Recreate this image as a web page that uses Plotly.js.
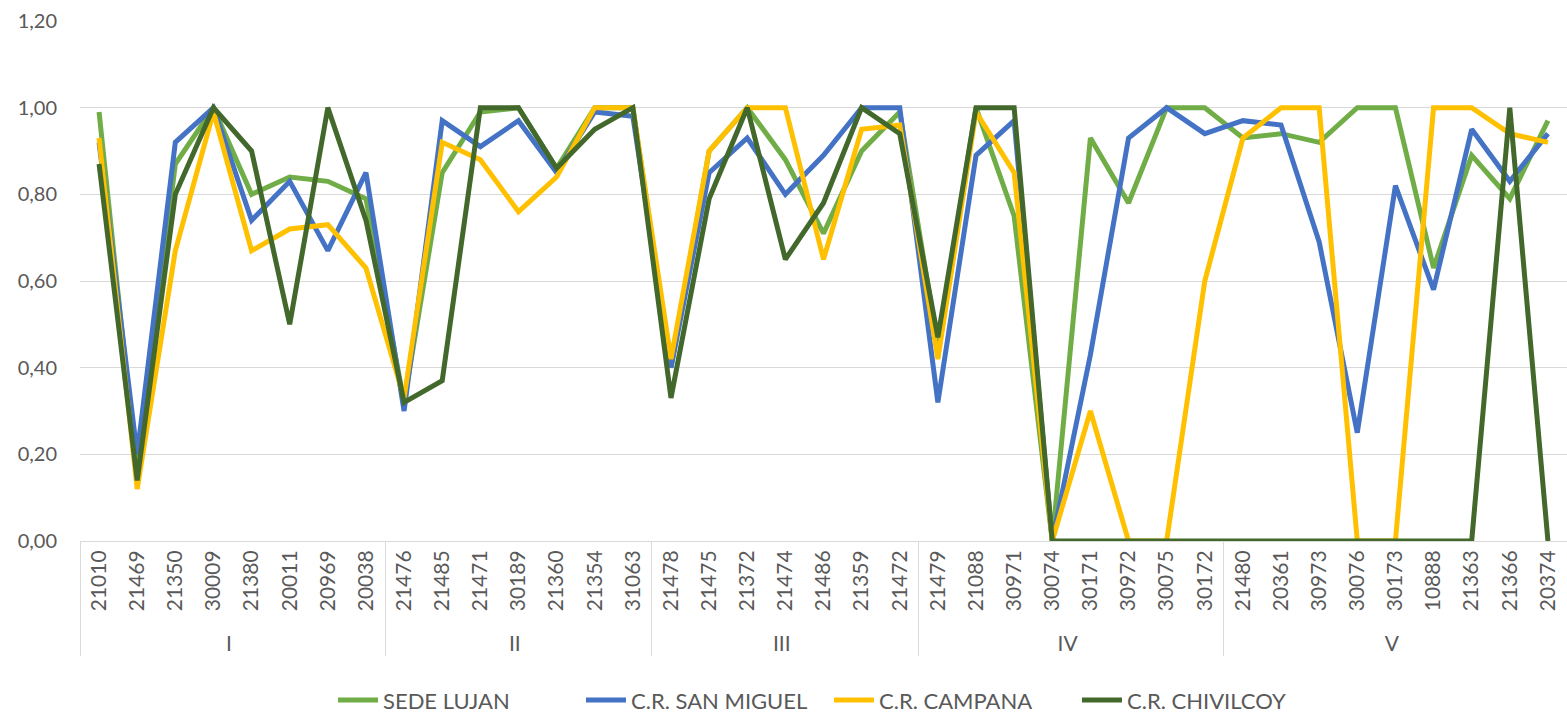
<!DOCTYPE html>
<html>
<head>
<meta charset="utf-8">
<script src="https://cdn.plot.ly/plotly-3.0.1.min.js"></script>
<style>
html,body{margin:0;padding:0;background:#fff;}
#chart{width:1567px;height:712px;}
</style>
</head>
<body>
<div id="chart"></div>
<script>
const groups = ['I','I','I','I','I','I','I','I',
  'II','II','II','II','II','II','II',
  'III','III','III','III','III','III','III',
  'IV','IV','IV','IV','IV','IV','IV','IV',
  'V','V','V','V','V','V','V','V','V'];
const codes = ['21010','21469','21350','30009','21380','20011','20969','20038',
  '21476','21485','21471','30189','21360','21354','31063',
  '21478','21475','21372','21474','21486','21359','21472',
  '21479','21088','30971','30074','30171','30972','30075','30172',
  '21480','20361','30973','30076','30173','10888','21363','21366','20374'];

const sedeLujan = [0.99,0.15,0.87,1.00,0.80,0.84,0.83,0.79,
  0.32,0.85,0.99,1.00,0.86,1.00,1.00,
  0.40,0.90,1.00,0.88,0.71,0.90,0.99,
  0.45,1.00,0.75,0.00,0.93,0.78,1.00,1.00,
  0.93,0.94,0.92,1.00,1.00,0.63,0.89,0.79,0.97];
const sanMiguel = [0.92,0.20,0.92,1.00,0.74,0.83,0.67,0.85,
  0.30,0.97,0.91,0.97,0.85,0.99,0.98,
  0.40,0.85,0.93,0.80,0.89,1.00,1.00,
  0.32,0.89,0.97,0.00,0.43,0.93,1.00,0.94,
  0.97,0.96,0.69,0.25,0.82,0.58,0.95,0.83,0.94];
const campana = [0.93,0.12,0.67,0.99,0.67,0.72,0.73,0.63,
  0.33,0.92,0.88,0.76,0.84,1.00,1.00,
  0.42,0.90,1.00,1.00,0.65,0.95,0.96,
  0.42,0.99,0.85,0.00,0.30,0.00,0.00,0.60,
  0.93,1.00,1.00,0.00,0.00,1.00,1.00,0.94,0.92];
const chivilcoy = [0.87,0.14,0.80,1.00,0.90,0.50,1.00,0.74,
  0.32,0.37,1.00,1.00,0.86,0.95,1.00,
  0.33,0.79,1.00,0.65,0.78,1.00,0.94,
  0.47,1.00,1.00,0.00,0.00,0.00,0.00,0.00,
  0.00,0.00,0.00,0.00,0.00,0.00,0.00,1.00,0.00];

const seriesNames = ['SEDE LUJAN','C.R. SAN MIGUEL','C.R. CAMPANA','C.R. CHIVILCOY'];
const seriesColors = ['#70AD47','#4472C4','#FFC000','#43682B'];
const seriesValues = [sedeLujan, sanMiguel, campana, chivilcoy];

const FONT = 'Lato, "Open Sans", sans-serif';
const traces = seriesValues.map((vals, k) => ({
  type: 'scatter',
  mode: 'lines',
  name: seriesNames[k],
  x: [groups, codes],
  y: vals,
  line: {color: seriesColors[k], width: 5, shape: 'linear'},
  hoverinfo: 'skip'
}));

const layout = {
  width: 1567, height: 712,
  margin: {l: 80, r: 0, t: 21, b: 171, pad: 0, autoexpand: false},
  paper_bgcolor: '#ffffff',
  plot_bgcolor: '#ffffff',
  separators: ',.',
  font: {family: FONT, size: 20, color: '#595959'},
  showlegend: true,
  legend: {
    orientation: 'h', xref: 'container', x: 0.2125, xanchor: 'left',
    y: -0.306, yanchor: 'middle',
    font: {family: FONT, size: 22, color: '#595959'},
    itemwidth: 40, entrywidth: 193, entrywidthmode: 'pixels'
  },
  xaxis: {
    type: 'multicategory',
    range: [-0.5, codes.length - 0.5],
    automargin: false,
    tickangle: -90,
    showline: true, linecolor: '#D9D9D9', linewidth: 1,
    showgrid: false, zeroline: false,
    showdividers: true, dividercolor: '#D9D9D9', dividerwidth: 1,
    ticks: 'outside', ticklen: 18, tickcolor: 'rgba(0,0,0,0)',
    tickfont: {family: FONT, size: 21, color: '#595959'}
  },
  yaxis: {
    range: [0, 1.2], dtick: 0.2, tick0: 0,
    automargin: false,
    tickformat: '.2f',
    showgrid: true, gridcolor: '#D9D9D9', gridwidth: 1,
    zeroline: false, showline: false,
    ticks: 'outside', ticklen: 18, tickcolor: 'rgba(0,0,0,0)',
    tickfont: {family: FONT, size: 20, color: '#595959'}
  }
};

Plotly.newPlot('chart', traces, layout, {displayModeBar: false, staticPlot: true});
</script>
</body>
</html>
